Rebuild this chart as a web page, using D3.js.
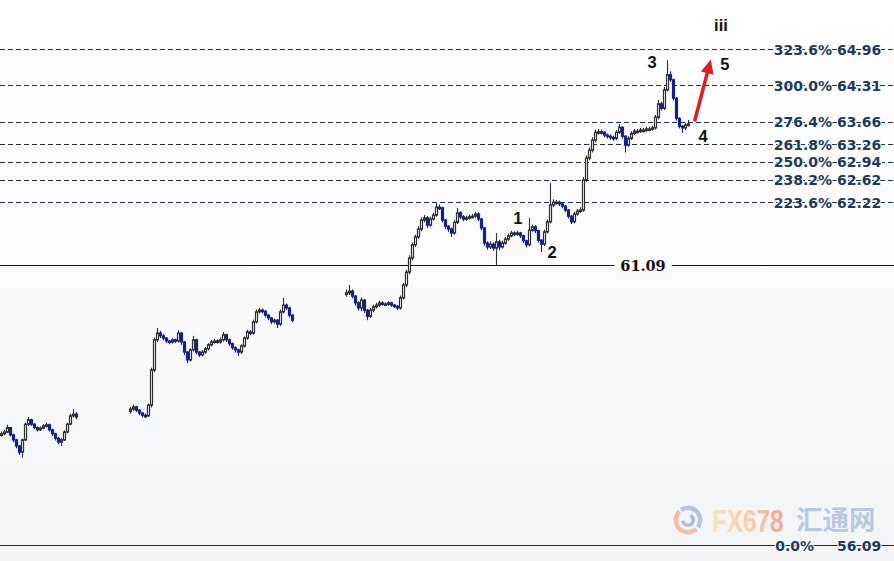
<!DOCTYPE html>
<html>
<head>
<meta charset="utf-8">
<script src="https://cdn.jsdelivr.net/npm/d3@7/dist/d3.min.js"></script>
<style>
html,body{margin:0;padding:0;background:#fff;}
svg{display:block;}
</style>
</head>
<body>
<svg id="chart" width="894" height="561"></svg>
<script>
// ---------------- DATA ----------------
// Session start (bar index) and first open of each session
const sessionStart = [0, 43, 115];
const sessionOpen = [58.05, 58.48, 60.57];

const seg1Close = [58.08,58.11,58.19,58.06,57.97,57.86,57.75,57.97,58.25,58.33,58.25,58.19,58.15,58.18,58.22,58.24,58.15,58.08,58.00,57.93,57.97,58.11,58.25,58.40,58.43,58.38];
const seg1High  = [58.12,58.15,58.24,58.20,58.08,57.99,57.88,57.99,58.28,58.38,58.35,58.27,58.21,58.21,58.25,58.28,58.26,58.17,58.10,58.02,58.00,58.14,58.28,58.44,58.52,58.47];
const seg1Low   = [58.03,58.05,58.09,58.03,57.93,57.82,57.70,57.65,57.95,58.22,58.22,58.16,58.12,58.13,58.16,58.19,58.12,58.04,57.96,57.89,57.86,57.95,58.09,58.23,58.37,58.34];

const seg2Close = [58.52,58.56,58.50,58.45,58.41,58.40,58.59,59.22,59.76,59.88,59.83,59.79,59.74,59.72,59.76,59.74,59.88,59.72,59.54,59.40,59.58,59.76,59.54,59.49,59.54,59.60,59.67,59.72,59.74,59.72,59.76,59.85,59.76,59.69,59.62,59.58,59.54,59.65,59.79,59.90,59.88,60.08,60.26,60.29,60.27,60.20,60.15,60.08,60.11,60.04,60.26,60.38,60.33,60.20,60.11];
const seg2High  = [58.56,58.60,58.58,58.52,58.47,58.44,58.62,59.26,59.80,59.97,59.92,59.86,59.81,59.76,59.79,59.78,59.93,59.90,59.74,59.56,59.61,59.83,59.78,59.56,59.58,59.63,59.70,59.76,59.78,59.77,59.80,59.90,59.87,59.78,59.71,59.64,59.60,59.68,59.82,59.94,59.93,60.12,60.30,60.33,60.32,60.29,60.22,60.17,60.14,60.13,60.30,60.51,60.41,60.35,60.22];
const seg2Low   = [58.44,58.49,58.47,58.41,58.37,58.36,58.38,58.55,59.18,59.72,59.79,59.75,59.70,59.68,59.69,59.70,59.71,59.67,59.49,59.34,59.37,59.55,59.50,59.45,59.46,59.51,59.57,59.64,59.69,59.69,59.69,59.73,59.72,59.65,59.58,59.53,59.47,59.51,59.62,59.76,59.84,59.85,60.05,60.23,60.23,60.16,60.11,60.04,60.05,59.97,60.01,60.23,60.29,60.16,60.07];

const seg3Close = [60.60,60.63,60.54,60.42,60.33,60.47,60.29,60.18,60.29,60.35,
  60.38,60.42,60.40,60.40,60.42,60.38,60.36,60.33,60.51,60.74,
  60.97,61.22,61.46,61.60,61.74,61.90,61.94,61.81,61.92,61.99,
  62.13,62.12,61.90,61.79,61.74,61.67,61.86,62.03,61.96,61.92,
  61.94,61.96,61.97,62.01,61.92,61.76,61.49,61.42,61.47,61.40,
  61.51,61.42,61.49,61.56,61.62,61.67,61.65,61.67,61.62,61.53,
  61.46,61.72,61.78,61.71,61.54,61.47,61.69,61.87,62.17,62.22,
  62.22,62.19,62.15,62.08,61.97,61.87,62.01,62.06,62.08,62.62,
  63.01,63.15,63.33,63.47,63.48,63.47,63.42,63.40,63.38,63.36,
  63.47,63.56,63.40,63.24,63.36,63.45,63.49,63.49,63.51,63.51,
  63.53,63.53,63.55,63.74,63.98,63.90,64.23,64.50,64.41,64.08,
  63.72,63.58,63.55,63.60,63.62];
const seg3High = [60.66,60.74,60.66,60.56,60.45,60.52,60.49,60.31,60.33,60.39,
  60.42,60.46,60.45,60.43,60.45,60.44,60.40,60.38,60.55,60.78,
  61.01,61.27,61.50,61.64,61.79,61.95,61.99,61.97,61.96,62.03,
  62.21,62.18,62.14,61.92,61.81,61.77,61.90,62.12,62.06,61.99,
  61.98,62.00,62.01,62.05,62.04,61.94,61.78,61.52,61.52,61.50,
  61.67,61.55,61.53,61.60,61.66,61.71,61.70,61.71,61.69,61.64,
  61.55,61.94,61.82,61.81,61.73,61.56,61.73,61.91,62.56,62.27,
  62.26,62.25,62.21,62.17,62.10,61.99,62.05,62.10,62.13,62.67,
  63.06,63.20,63.38,63.52,63.53,63.52,63.49,63.45,63.43,63.41,
  63.51,63.62,63.58,63.42,63.40,63.49,63.53,63.53,63.55,63.55,
  63.57,63.57,63.59,63.78,64.05,64.02,64.28,64.76,64.56,64.43,
  64.10,63.74,63.60,63.64,63.69];
const seg3Low = [60.53,60.56,60.50,60.37,60.28,60.27,60.24,60.11,60.15,60.25,
  60.32,60.35,60.37,60.37,60.37,60.35,60.33,60.29,60.30,60.48,
  60.70,60.93,61.18,61.42,61.56,61.70,61.86,61.76,61.78,61.89,
  61.96,62.08,61.86,61.74,61.69,61.60,61.64,61.83,61.92,61.88,
  61.89,61.91,61.93,61.94,61.88,61.72,61.44,61.37,61.38,61.35,
  61.09,61.36,61.39,61.46,61.53,61.59,61.61,61.62,61.58,61.49,
  61.41,61.43,61.69,61.67,61.50,61.33,61.44,61.66,61.84,62.13,
  62.18,62.15,62.11,62.04,61.93,61.83,61.84,61.98,62.03,62.05,
  62.58,62.97,63.11,63.29,63.43,63.43,63.38,63.36,63.34,63.32,
  63.33,63.44,63.36,63.11,63.21,63.33,63.42,63.45,63.46,63.47,
  63.48,63.49,63.50,63.52,63.70,63.86,63.87,64.20,64.37,64.04,
  63.68,63.54,63.46,63.51,63.57];

// Fibonacci levels
const fibPct   = ["323.6%","300.0%","276.4%","261.8%","250.0%","238.2%","223.6%"];
const fibPrice = [64.96, 64.31, 63.66, 63.26, 62.94, 62.62, 62.22];
const basePct = "0.0%";
const basePrice = 56.09;
const supportPrice = 61.09;

// Wave labels (bar index, price)
const waveText  = ["iii","3","5","4","1","2"];
const waveIndex = [240, 217, 241.3, 234, 172.3, 183.7];
const wavePrice = [65.39, 64.73, 64.69, 63.40, 61.94, 61.33];

// Projection arrow (bar index, price)
const arrowFrom = [231.3, 63.69];
const arrowTo   = [236.6, 64.77];

// ---------------- CHART ----------------
const W = 894, H = 561;
const svg = d3.select("#chart");

const defs = svg.append("defs");
const bg = defs.append("linearGradient").attr("id","bg").attr("x1",0).attr("y1",0).attr("x2",0).attr("y2",1);
bg.append("stop").attr("offset","0%").attr("stop-color","#ffffff");
bg.append("stop").attr("offset","45%").attr("stop-color","#fbfbfb");
bg.append("stop").attr("offset","100%").attr("stop-color","#f3f4f6");
const wm = defs.append("linearGradient").attr("id","wm").attr("x1",0).attr("y1",0).attr("x2",1).attr("y2",0);
wm.append("stop").attr("offset","0%").attr("stop-color","#fde0b0");
wm.append("stop").attr("offset","55%").attr("stop-color","#fbc39a");
wm.append("stop").attr("offset","100%").attr("stop-color","#f29686");

svg.append("rect").attr("width",W).attr("height",H).attr("fill","url(#bg)");

const y = d3.scaleLinear().domain([56.09, 64.96]).range([545, 49]);
const x = d3.scaleLinear().domain([0, 229]).range([1, 688]);

// Watermark
const wmG = svg.append("g").attr("opacity",0.85);
const lc = [688, 520];
wmG.append("path")
  .attr("d", d3.arc()({innerRadius:10, outerRadius:14.5, startAngle:-0.6, endAngle:2.2}))
  .attr("transform",`translate(${lc})`).attr("fill","#a9bddc");
wmG.append("path")
  .attr("d", d3.arc()({innerRadius:10, outerRadius:14.5, startAngle:2.4, endAngle:5.5}))
  .attr("transform",`translate(${lc})`).attr("fill","#f6b596");
wmG.append("path")
  .attr("d", d3.arc()({innerRadius:3.5, outerRadius:7, startAngle:0.5, endAngle:4.6}))
  .attr("transform",`translate(${lc})`).attr("fill","#9fb4d6");
wmG.append("text").attr("transform","translate(712,532) scale(0.76,1)")
  .attr("font-family","'Liberation Sans',Arial,sans-serif")
  .attr("font-weight","bold").attr("font-size",32)
  .attr("fill","url(#wm)").text("FX678");
wmG.append("text").attr("transform","translate(796,530) scale(0.98,1)")
  .attr("font-family","'Noto Sans CJK SC',sans-serif")
  .attr("font-weight","bold").attr("font-size",27)
  .attr("fill","#aec2de").text("汇通网");

// Fibonacci dashed lines
const lineCol = "#1e2f48";
svg.append("g").selectAll("line").data(fibPrice).join("line")
  .attr("x1",0).attr("x2",W)
  .attr("y1",d=>Math.round(y(d))+0.5).attr("y2",d=>Math.round(y(d))+0.5)
  .attr("stroke",lineCol).attr("stroke-width",1).attr("stroke-dasharray","5,3");

// base (0%) line
svg.append("line").attr("x1",0).attr("x2",W)
  .attr("y1",Math.round(y(basePrice))+0.5).attr("y2",Math.round(y(basePrice))+0.5)
  .attr("stroke","#1b2b45").attr("stroke-width",1.2);

// support line
svg.append("line").attr("x1",0).attr("x2",W)
  .attr("y1",Math.round(y(supportPrice))+0.5).attr("y2",Math.round(y(supportPrice))+0.5)
  .attr("stroke","#111").attr("stroke-width",1.2);
const supG = svg.append("g");
const supText = supG.append("text").attr("x",643).attr("y",y(supportPrice)+6)
  .attr("text-anchor","middle")
  .attr("font-family","'DejaVu Serif','Liberation Serif',serif")
  .attr("font-weight","bold").attr("font-size",14.5).attr("fill","#111")
  .text(supportPrice.toFixed(2));
const bb = supText.node().getBBox();
supG.insert("rect","text").attr("x",bb.x-6).attr("y",bb.y).attr("width",bb.width+12).attr("height",bb.height)
  .attr("fill","#fbfbfb");

// Fib labels
const labFont = "'DejaVu Sans',Verdana,sans-serif";
const labCol = "#1a3a5e";
function label(txt, px, py, anchor){
  svg.append("text").attr("x",px).attr("y",py+5.5)
    .attr("text-anchor",anchor)
    .attr("font-family",labFont).attr("font-weight","bold").attr("font-size",14)
    .attr("fill",labCol)
    .attr("stroke","#ffffff").attr("stroke-width",2).attr("paint-order","stroke")
    .text(txt);
}
fibPrice.forEach((p,i)=>{
  label(fibPct[i], 832, y(p), "end");
  label(p.toFixed(2), 837, y(p), "start");
});
label(basePct, 814, y(basePrice), "end");
label(basePrice.toFixed(2), 837, y(basePrice), "start");

// Candles
const sessions = [
  {start:sessionStart[0], open:sessionOpen[0], c:seg1Close, h:seg1High, l:seg1Low},
  {start:sessionStart[1], open:sessionOpen[1], c:seg2Close, h:seg2High, l:seg2Low},
  {start:sessionStart[2], open:sessionOpen[2], c:seg3Close, h:seg3High, l:seg3Low}
];
const bars = [];
sessions.forEach(s=>{
  s.c.forEach((c,i)=>{
    const o = i===0 ? s.open : s.c[i-1];
    bars.push({i:s.start+i, o, h:s.h[i], l:s.l[i], c});
  });
});
const upCol = "#2e2e2e", dnCol = "#18208f";
const cg = svg.append("g");
cg.selectAll("line").data(bars).join("line")
  .attr("x1",d=>Math.round(x(d.i))+0.5).attr("x2",d=>Math.round(x(d.i))+0.5)
  .attr("y1",d=>y(d.h)).attr("y2",d=>y(d.l))
  .attr("stroke",d=>d.c>=d.o?upCol:dnCol).attr("stroke-width",1.1);
cg.selectAll("rect").data(bars).join("rect")
  .attr("x",d=>Math.round(x(d.i))-0.5)
  .attr("width",2)
  .attr("y",d=>y(Math.max(d.o,d.c)))
  .attr("height",d=>Math.max(1.5,Math.abs(y(d.o)-y(d.c))))
  .attr("fill",d=>d.c>=d.o?"#ffffff":dnCol)
  .attr("stroke",d=>d.c>=d.o?upCol:dnCol).attr("stroke-width",1.2);

// Wave labels
svg.append("g").selectAll("text").data(waveText).join("text")
  .attr("x",(d,i)=>x(waveIndex[i])).attr("y",(d,i)=>y(wavePrice[i]))
  .attr("text-anchor","middle").attr("dominant-baseline","central")
  .attr("font-family","'Liberation Sans',Arial,sans-serif").attr("font-weight","bold")
  .attr("font-size",16.5).attr("fill","#111")
  .text(d=>d);

// Arrow
const ax1 = x(arrowFrom[0]), ay1 = y(arrowFrom[1]);
const ax2 = x(arrowTo[0]), ay2 = y(arrowTo[1]);
const ang = Math.atan2(ay2-ay1, ax2-ax1);
const headLen = 14, headW = 6.5;
const bx = ax2 - headLen*Math.cos(ang), by = ay2 - headLen*Math.sin(ang);
svg.append("line").attr("x1",ax1).attr("y1",ay1).attr("x2",bx).attr("y2",by)
  .attr("stroke","#d91f26").attr("stroke-width",3.5).attr("stroke-linecap","round");
const px = -Math.sin(ang), py = Math.cos(ang);
svg.append("path")
  .attr("d",`M${ax2},${ay2}L${bx+px*headW},${by+py*headW}L${bx-px*headW},${by-py*headW}Z`)
  .attr("fill","#d91f26");
</script>
</body>
</html>
